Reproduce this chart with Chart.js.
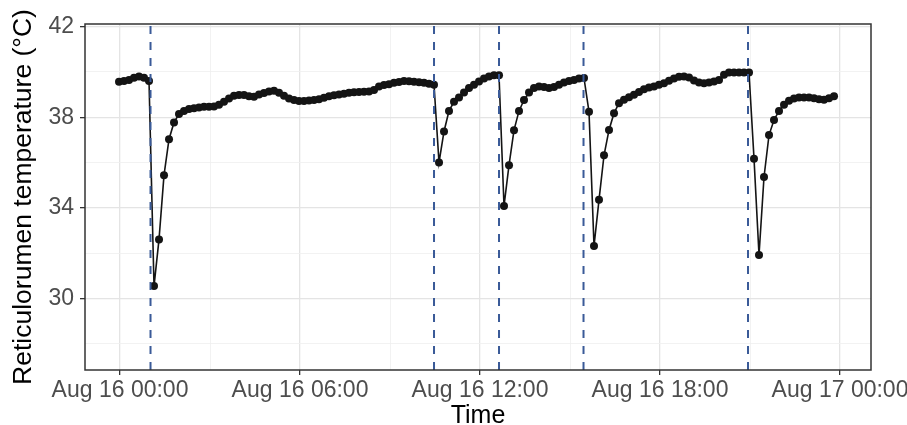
<!DOCTYPE html>
<html>
<head>
<meta charset="utf-8">
<script src="https://cdn.jsdelivr.net/npm/chart.js@4.4.1/dist/chart.umd.min.js"></script>
<style>
  body { margin: 0; background: #fff; }
  #wrap { width: 907px; height: 425px; }
</style>
</head>
<body>
<div id="wrap"><canvas id="myChart" width="907" height="425"></canvas></div>
<script>
// readings every 10 min, first one 2 min before Aug 16 00:00
const startMinute = -2;
const stepMinutes = 10;
const temperature = [
    39.57, 39.60, 39.65, 39.75, 39.80, 39.75, 39.60, 30.54, 32.60, 35.44,
    37.03, 37.77, 38.14, 38.28, 38.36, 38.40, 38.43, 38.46, 38.46, 38.47,
    38.55, 38.68, 38.83, 38.95, 38.98, 38.98, 38.93, 38.90, 39.00, 39.07,
    39.14, 39.17, 39.08, 38.95, 38.83, 38.76, 38.72, 38.72, 38.74, 38.76,
    38.80, 38.86, 38.93, 38.97, 39.00, 39.04, 39.08, 39.10, 39.12, 39.13,
    39.14, 39.20, 39.36, 39.42, 39.46, 39.52, 39.56, 39.60, 39.59, 39.57,
    39.55, 39.52, 39.48, 39.44, 36.00, 37.37, 38.28, 38.68, 38.87, 39.09,
    39.29, 39.43, 39.58, 39.71, 39.80, 39.86, 39.85, 34.08, 35.88, 37.43,
    38.28, 38.76, 39.09, 39.29, 39.36, 39.34, 39.29, 39.34, 39.43, 39.53,
    39.60, 39.65, 39.71, 39.73, 38.24, 32.31, 34.35, 36.32, 37.44, 38.18,
    38.62, 38.77, 38.88, 38.99, 39.12, 39.24, 39.31, 39.36, 39.43, 39.50,
    39.61, 39.71, 39.79, 39.80, 39.76, 39.62, 39.53, 39.50, 39.54, 39.58,
    39.64, 39.88, 39.98, 39.98, 39.98, 39.98, 39.98, 36.17, 31.91, 35.36,
    37.21, 37.88, 38.28, 38.55, 38.73, 38.83, 38.87, 38.87, 38.87, 38.84,
    38.80, 38.77, 38.84, 38.93
];
// dashed markers (minutes after Aug 16 00:00)
const eventMinutes = [61, 628, 758, 927, 1256];

const xTickHours = [0, 6, 12, 18, 24];
const xTickLabels = ['Aug 16 00:00', 'Aug 16 06:00', 'Aug 16 12:00', 'Aug 16 18:00', 'Aug 17 00:00'];
const xMinorHours = [3, 9, 15, 21];
const yTickValues = [30, 34, 38, 42];
const yMinorValues = [28, 32, 36, 40];

const xMin = -1.167, xMax = 25.033;
const yMin = 26.83, yMax = 42.12;

const points = temperature.map((t, i) => ({x: (startMinute + i * stepMinutes) / 60, y: t}));

const eventSets = eventMinutes.map((m) => ({
    data: [{x: m / 60, y: yMin}, {x: m / 60, y: yMax}],
    borderColor: '#3A5A98',
    borderWidth: 2,
    borderDash: [8, 8],
    pointRadius: 0,
    showLine: true,
    order: 0
}));

const isMajorX = (v) => xTickHours.includes(v);
const isMajorY = (v) => yTickValues.includes(v);

const panelBorder = {
    id: 'panelBorder',
    afterDraw(chart) {
        const {ctx, chartArea: a} = chart;
        ctx.save();
        ctx.strokeStyle = '#333333';
        ctx.lineWidth = 1.5;
        ctx.strokeRect(a.left, a.top, a.right - a.left, a.bottom - a.top);
        ctx.restore();
    }
};

const conf = {
    type: 'scatter',
    data: {
        datasets: [...eventSets, {
            data: points,
            borderColor: '#141414',
            borderWidth: 1.6,
            showLine: true,
            tension: 0,
            pointRadius: 4,
            pointBackgroundColor: '#141414',
            pointBorderWidth: 0,
            order: 1
        }]
    },
    options: {
        responsive: false,
        animation: false,
        devicePixelRatio: 1,
        layout: {padding: {top: 24, right: 36, bottom: 0, left: 0}},
        plugins: {legend: {display: false}, tooltip: {enabled: false}},
        scales: {
            x: {
                type: 'linear',
                min: xMin,
                max: xMax,
                afterBuildTicks: (s) => {
                    s.ticks = [...xTickHours, ...xMinorHours].sort((a, b) => a - b).map((v) => ({value: v}));
                },
                afterFit: (s) => {
                    s.height = 55;
                    s.paddingLeft = 0;
                    s.paddingRight = 0;
                },
                border: {display: false},
                grid: {
                    color: (c) => isMajorX(c.tick.value) ? '#E4E4E4' : '#EFEFEF',
                    lineWidth: (c) => isMajorX(c.tick.value) ? 1.3 : 0.8,
                    tickColor: (c) => isMajorX(c.tick.value) ? '#333333' : 'rgba(0,0,0,0)',
                    tickLength: 5,
                    tickWidth: 1.3
                },
                ticks: {
                    autoSkip: false,
                    maxRotation: 0,
                    padding: 2,
                    color: '#4D4D4D',
                    font: {family: 'Liberation Sans', size: 23},
                    callback: (v) => {
                        const k = xTickHours.indexOf(v);
                        return k >= 0 ? xTickLabels[k] : '';
                    }
                },
                title: {
                    display: true,
                    text: 'Time',
                    color: '#000',
                    font: {family: 'Liberation Sans', size: 25},
                    padding: {top: 0, bottom: -6}
                }
            },
            y: {
                min: yMin,
                max: yMax,
                afterBuildTicks: (s) => {
                    s.ticks = [...yMinorValues, ...yTickValues].sort((a, b) => a - b).map((v) => ({value: v}));
                },
                afterFit: (s) => {
                    s.width = 85;
                    s.paddingTop = 0;
                    s.paddingBottom = 0;
                },
                border: {display: false},
                grid: {
                    color: (c) => isMajorY(c.tick.value) ? '#E4E4E4' : '#EFEFEF',
                    lineWidth: (c) => isMajorY(c.tick.value) ? 1.3 : 0.8,
                    tickColor: (c) => isMajorY(c.tick.value) ? '#333333' : 'rgba(0,0,0,0)',
                    tickLength: 5,
                    tickWidth: 1.3
                },
                ticks: {
                    autoSkip: false,
                    padding: 6,
                    color: '#4D4D4D',
                    font: {family: 'Liberation Sans', size: 23},
                    callback: (v) => isMajorY(v) ? String(v) : ''
                },
                title: {
                    display: true,
                    text: 'Reticulorumen temperature (°C)',
                    color: '#000',
                    font: {family: 'Liberation Sans', size: 26.5},
                    padding: {top: 8, bottom: 0}
                }
            }
        }
    },
    plugins: [panelBorder]
};

const myChart = new Chart(document.getElementById('myChart'), conf);
</script>
</body>
</html>
